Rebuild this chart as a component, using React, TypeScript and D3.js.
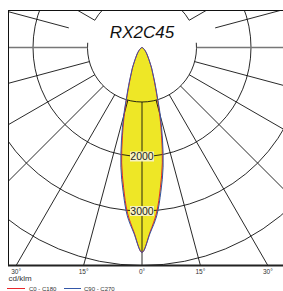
import React from "react";
import * as d3 from "d3";

// data: luminous intensity (cd/klm) vs angle from nadir (deg)
const angles = [0, 2.5, 5, 7.5, 10, 12.5, 15, 17.5, 20, 22.5, 25, 27.5, 30, 35, 40, 45, 50, 60, 70, 80, 90];
const c0c180 = [3760, 3390, 3050, 2590, 2150, 1660, 1240, 890, 665, 510, 410, 315, 250, 165, 118, 78, 54, 25, 10, 3, 0];
const c90c270 = [3760, 3410, 3100, 2660, 2230, 1740, 1300, 920, 690, 525, 420, 322, 255, 170, 120, 80, 55, 25, 10, 3, 0];
const ringValues = [1000, 2000, 3000, 4000];
const ringLabels = [2000, 3000];
const tickAngles = [-30, -15, 0, 15, 30];
const title = "RX2C45";
const unitLabel = "cd/klm";
const seriesNames = ["C0 - C180", "C90 - C270"];

const W = 283, H = 291;
const cx = 142, cy = 47.5;
const left = 8, top = 10, bottom = 265.5;
const r = d3.scaleLinear().domain([0, 4000]).range([0, 218]);
const rad = (d: number) => (d * Math.PI) / 180;
const pt = (theta: number, val: number): [number, number] => [
  cx + r(val) * Math.sin(rad(theta)),
  cy + r(val) * Math.cos(rad(theta)),
];

function lobePath(vals: number[]) {
  const pts: [number, number][] = [];
  for (let i = angles.length - 1; i >= 0; i--) pts.push(pt(-angles[i], vals[i]));
  for (let i = 1; i < angles.length - 1; i++) pts.push(pt(angles[i], vals[i]));
  return d3.line().curve(d3.curveCatmullRomClosed.alpha(0.5))(pts) as string;
}

export default function App() {
  const radials: number[] = [];
  for (let t = -165; t <= 165; t += 15) radials.push(t);

  const p1000 = d3.path();
  const rr = r(1000);
  p1000.arc(cx, cy, rr, rad(-5), rad(185), false);
  p1000.moveTo(cx + rr * Math.cos(rad(-150)), cy + rr * Math.sin(rad(-150)));
  p1000.arc(cx, cy, rr, rad(-150), rad(-30), false);

  const font = "'Liberation Sans', Arial, sans-serif";
  return (
    <svg width={W} height={H} style={{ position: "absolute", left: 0, top: 0, background: "#fff" }}>
      <defs>
        <clipPath id="frame">
          <rect x={left} y={top} width={W - left} height={bottom - top} />
        </clipPath>
      </defs>
      <g clipPath="url(#frame)">
        <path d={lobePath(c90c270)} fill="#eee726" stroke="none" />
        {ringValues.filter((v) => v !== 1000).map((v) => (
          <circle key={v} cx={cx} cy={cy} r={r(v)} fill="none" stroke="#111" strokeWidth={0.9} />
        ))}
        <path d={p1000.toString()} fill="none" stroke="#111" strokeWidth={0.9} />
        {radials.map((t) => {
          const start = Math.abs(t) === 105 ? 1390 : 1000;
          const [x1, y1] = pt(t, start);
          const [x2, y2] = pt(t, 12000);
          const horiz = Math.abs(t) === 90;
          return (
            <line key={t} x1={x1} y1={y1} x2={x2} y2={y2}
              stroke={horiz ? "#777" : "#111"} strokeWidth={horiz ? 1.6 : 0.9} />
          );
        })}
        <path d={lobePath(c0c180)} fill="none" stroke="#e8262a" strokeWidth={1} />
        <path d={lobePath(c90c270)} fill="none" stroke="#3457a8" strokeWidth={1} />
      </g>
      {ringLabels.map((v) => (
        <g key={v}>
          <rect x={cx - 12} y={cy + r(v) - 5} width={24} height={10} fill="#f6f2c0" />
          <text x={cx} y={cy + r(v) + 3.8} textAnchor="middle" fontFamily={font} fontSize={10.5} fill="#222">{v}</text>
        </g>
      ))}
      <line x1={left} y1={top + 0.5} x2={W} y2={top + 0.5} stroke="#111" strokeWidth={1} />
      <line x1={left + 0.5} y1={top} x2={left + 0.5} y2={bottom} stroke="#111" strokeWidth={1} />
      <line x1={left} y1={bottom} x2={W} y2={bottom} stroke="#222" strokeWidth={2} />
      <text x={cx} y={37.5} textAnchor="middle" fontFamily={font} fontStyle="italic" fontSize={17} fill="#111">{title}</text>
      {tickAngles.map((t) => (
        <text key={t} x={cx + r(4000) * Math.tan(rad(t))} y={274} textAnchor="middle" fontFamily={font} fontSize={6.5} fill="#333">
          {Math.abs(t)}°
        </text>
      ))}
      <text x={8.5} y={281} fontFamily={font} fontSize={8} fill="#333">{unitLabel}</text>
      <line x1={7} y1={288.5} x2={25} y2={288.5} stroke="#e8262a" strokeWidth={1} />
      <text x={29} y={290.5} fontFamily={font} fontSize={6} fill="#333">{seriesNames[0]}</text>
      <line x1={64} y1={288.5} x2={81} y2={288.5} stroke="#3457a8" strokeWidth={1} />
      <text x={84} y={290.5} fontFamily={font} fontSize={6} fill="#333">{seriesNames[1]}</text>
    </svg>
  );
}
